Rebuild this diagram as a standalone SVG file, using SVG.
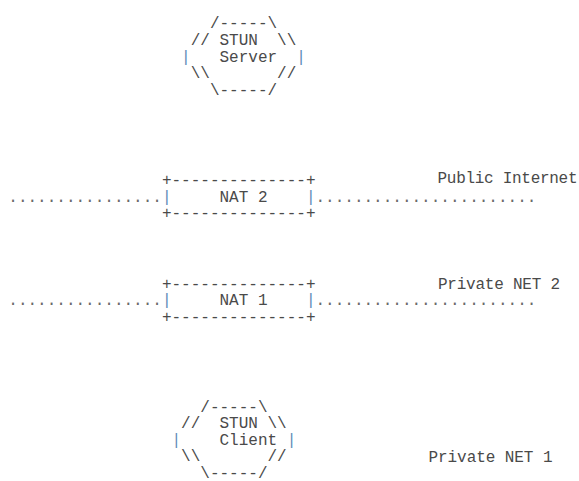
<svg xmlns="http://www.w3.org/2000/svg" width="579" height="481" viewBox="0 0 579 481">
  <style>
    text { font-family: "Liberation Mono", "Courier New", monospace; font-size: 16px; fill: #4a4a4a; white-space: pre; }
    .bar { fill: #5e8cb8; }
    .dots { fill: #6a6a6a; }
  </style>
  <rect width="579" height="481" fill="#ffffff"/>

  <!-- STUN server -->
  <g id="stun-server">
    <text x="209.9" y="28.3" xml:space="preserve">/-----\</text>
    <text x="190.7" y="45" xml:space="preserve">// STUN  \\</text>
    <text x="181.1" y="61.7" xml:space="preserve"><tspan class="bar">|</tspan>   Server  <tspan class="bar">|</tspan></text>
    <text x="190.7" y="78.3" xml:space="preserve">\\       //</text>
    <text x="209.9" y="95" xml:space="preserve">\-----/</text>
  </g>

  <!-- NAT 2 -->
  <g id="nat-2">
    <text x="161.9" y="185" xml:space="preserve">+--------------+</text>
    <text x="161.9" y="201.7" xml:space="preserve"><tspan class="bar">|</tspan>     NAT 2    <tspan class="bar">|</tspan></text>
    <text x="161.9" y="218.3" xml:space="preserve">+--------------+</text>
  </g>

  <!-- NAT 1 -->
  <g id="nat-1">
    <text x="161.9" y="289" xml:space="preserve">+--------------+</text>
    <text x="161.9" y="305.3" xml:space="preserve"><tspan class="bar">|</tspan>     NAT 1    <tspan class="bar">|</tspan></text>
    <text x="161.9" y="322" xml:space="preserve">+--------------+</text>
  </g>

  <!-- STUN client -->
  <g id="stun-client">
    <text x="200.3" y="411.5" xml:space="preserve">/-----\</text>
    <text x="181.1" y="428" xml:space="preserve">//  STUN \\</text>
    <text x="171.5" y="444.5" xml:space="preserve"><tspan class="bar">|</tspan>    Client <tspan class="bar">|</tspan></text>
    <text x="181.1" y="461" xml:space="preserve">\\       //</text>
    <text x="200.3" y="477.5" xml:space="preserve">\-----/</text>
  </g>

  <!-- network segments (dotted links) -->
  <g id="connectors">
    <text class="dots" x="8.3" y="201.7" xml:space="preserve">................</text>
    <text class="dots" x="315.5" y="201.7" xml:space="preserve">.......................</text>
    <text class="dots" x="8.3" y="305.3" xml:space="preserve">................</text>
    <text class="dots" x="315.5" y="305.3" xml:space="preserve">.......................</text>
  </g>

  <!-- network labels -->
  <g id="label-public-internet">
    <text x="437.5" y="182.5" textLength="140">Public Internet</text>
  </g>
  <g id="label-private-net-2">
    <text x="438" y="288.5" textLength="122">Private NET 2</text>
  </g>
  <g id="label-private-net-1">
    <text x="428.5" y="462.3" textLength="124">Private NET 1</text>
  </g>
</svg>
